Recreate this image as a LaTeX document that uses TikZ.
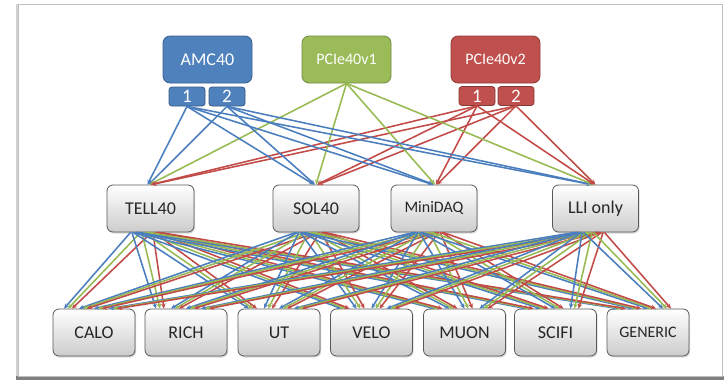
\documentclass[tikz,border=0pt]{standalone}
\usepackage{fontspec}
\setmainfont{Carlito}
\usetikzlibrary{arrows.meta,shadows,calc}
\definecolor{cblue}{HTML}{4F81BD}
\definecolor{cgreen}{HTML}{9BBB59}
\definecolor{cred}{HTML}{C0504D}
\definecolor{lblue}{HTML}{4A7EBE}
\definecolor{lgreen}{HTML}{97BA52}
\definecolor{lred}{HTML}{C24A47}
\tikzset{
  graybox/.style={draw=black!65, line width=0.8pt, rounded corners=6pt,
    top color=white, bottom color=black!20, minimum width=86pt, minimum height=47pt,
    inner sep=0pt, text=black!85, font=\fontsize{18}{20}\selectfont,
    drop shadow={opacity=0.3, shadow xshift=1.2pt, shadow yshift=-1.5pt}},
  topbox/.style={draw=#1!75!black, fill=#1, line width=0.8pt, rounded corners=7pt,
    minimum width=89pt, minimum height=47pt, inner sep=0pt, text=white,
    font=\fontsize{18}{20}\selectfont},
  portbox/.style={draw=#1!70!black, fill=#1, line width=0.8pt, rounded corners=3pt,
    minimum width=36pt, minimum height=19pt, inner sep=0pt, text=white,
    font=\fontsize{19}{19}\selectfont},
  conn/.style={draw=#1, line width=1.55pt, -{Stealth[length=5pt,width=4.5pt]}},
}
\begin{document}
\begin{tikzpicture}[x=1pt,y=-1pt]
\useasboundingbox (0,0) rectangle (725,380);
\fill[white] (0,0) rectangle (725,380);
% frame with shadow
\fill[black!18] (15.5,4) rectangle (18.5,377);
\fill[black!50] (16,376) rectangle (724,380);
\draw[black!25, line width=0.8pt, fill=white] (18,4) rectangle (722.5,376.5);

% top nodes
\node[topbox=cblue] (amc) at (207.5,59.5) {AMC40};
\node[topbox=cgreen, font=\fontsize{16}{18}\selectfont] (pv1) at (346.5,59.5) {PCIe40v1};
\node[topbox=cred, font=\fontsize{16}{18}\selectfont] (pv2) at (495.5,59.5) {PCIe40v2};
\node[portbox=cblue] (a1) at (187,96.5) {1};
\node[portbox=cblue] (a2) at (227,96.5) {2};
\node[portbox=cred] (p1) at (477,96) {1};
\node[portbox=cred] (p2) at (516,96) {2};

% middle nodes
\node[graybox, minimum width=87pt] (m1) at (150.5,208.5) {TELL40};
\node[graybox] (m2) at (316,208.5) {SOL40};
\node[graybox, font=\fontsize{16}{18}\selectfont] (m3) at (434,208.5) {MiniDAQ};
\node[graybox] (m4) at (595.5,208.5) {LLI only};

% bottom nodes
\node[graybox, minimum width=82pt] (b1) at (94,332.5) {CALO};
\node[graybox, minimum width=82pt] (b2) at (186,332.5) {RICH};
\node[graybox, minimum width=82pt] (b3) at (279,332.5) {UT};
\node[graybox, minimum width=82pt] (b4) at (371.5,332.5) {VELO};
\node[graybox, minimum width=82pt] (b5) at (464.5,332.5) {MUON};
\node[graybox, minimum width=82pt] (b6) at (555.5,332.5) {SCIFI};
\node[graybox, minimum width=82pt, font=\fontsize{16}{18}\selectfont] (b7) at (648,332.5) {GENERIC};

% top connections
\foreach \m/\o in {m1/-1,m2/0,m3/1,m4/-2}{
  \draw[conn=lblue] (a1.south) -- ([xshift=\o pt-2pt]\m.north);
  \draw[conn=lblue] (a2.south) -- ([xshift=\o pt-1pt]\m.north);
  \draw[conn=lgreen] (pv1.south) -- ([xshift=\o pt]\m.north);
  \draw[conn=lred] (p1.south) -- ([xshift=\o pt+1pt]\m.north);
  \draw[conn=lred] (p2.south) -- ([xshift=\o pt+2pt]\m.north);
}

% bottom connections
\foreach \i in {1,2,3,4}{
  \foreach \j in {1,...,7}{
    \foreach \c/\so/\eo in {lblue/-16/-4,lgreen/-6/0,lred/5/4}{
      \pgfmathsetmacro{\sx}{\so+(\j-4)*1.3}
      \pgfmathsetmacro{\ex}{-26+(\i-1)*15+\eo}
      \draw[conn=\c] ([xshift=\sx pt]m\i.south) -- ([xshift=\ex pt]b\j.north);
    }
  }
}
\end{tikzpicture}
\end{document}
